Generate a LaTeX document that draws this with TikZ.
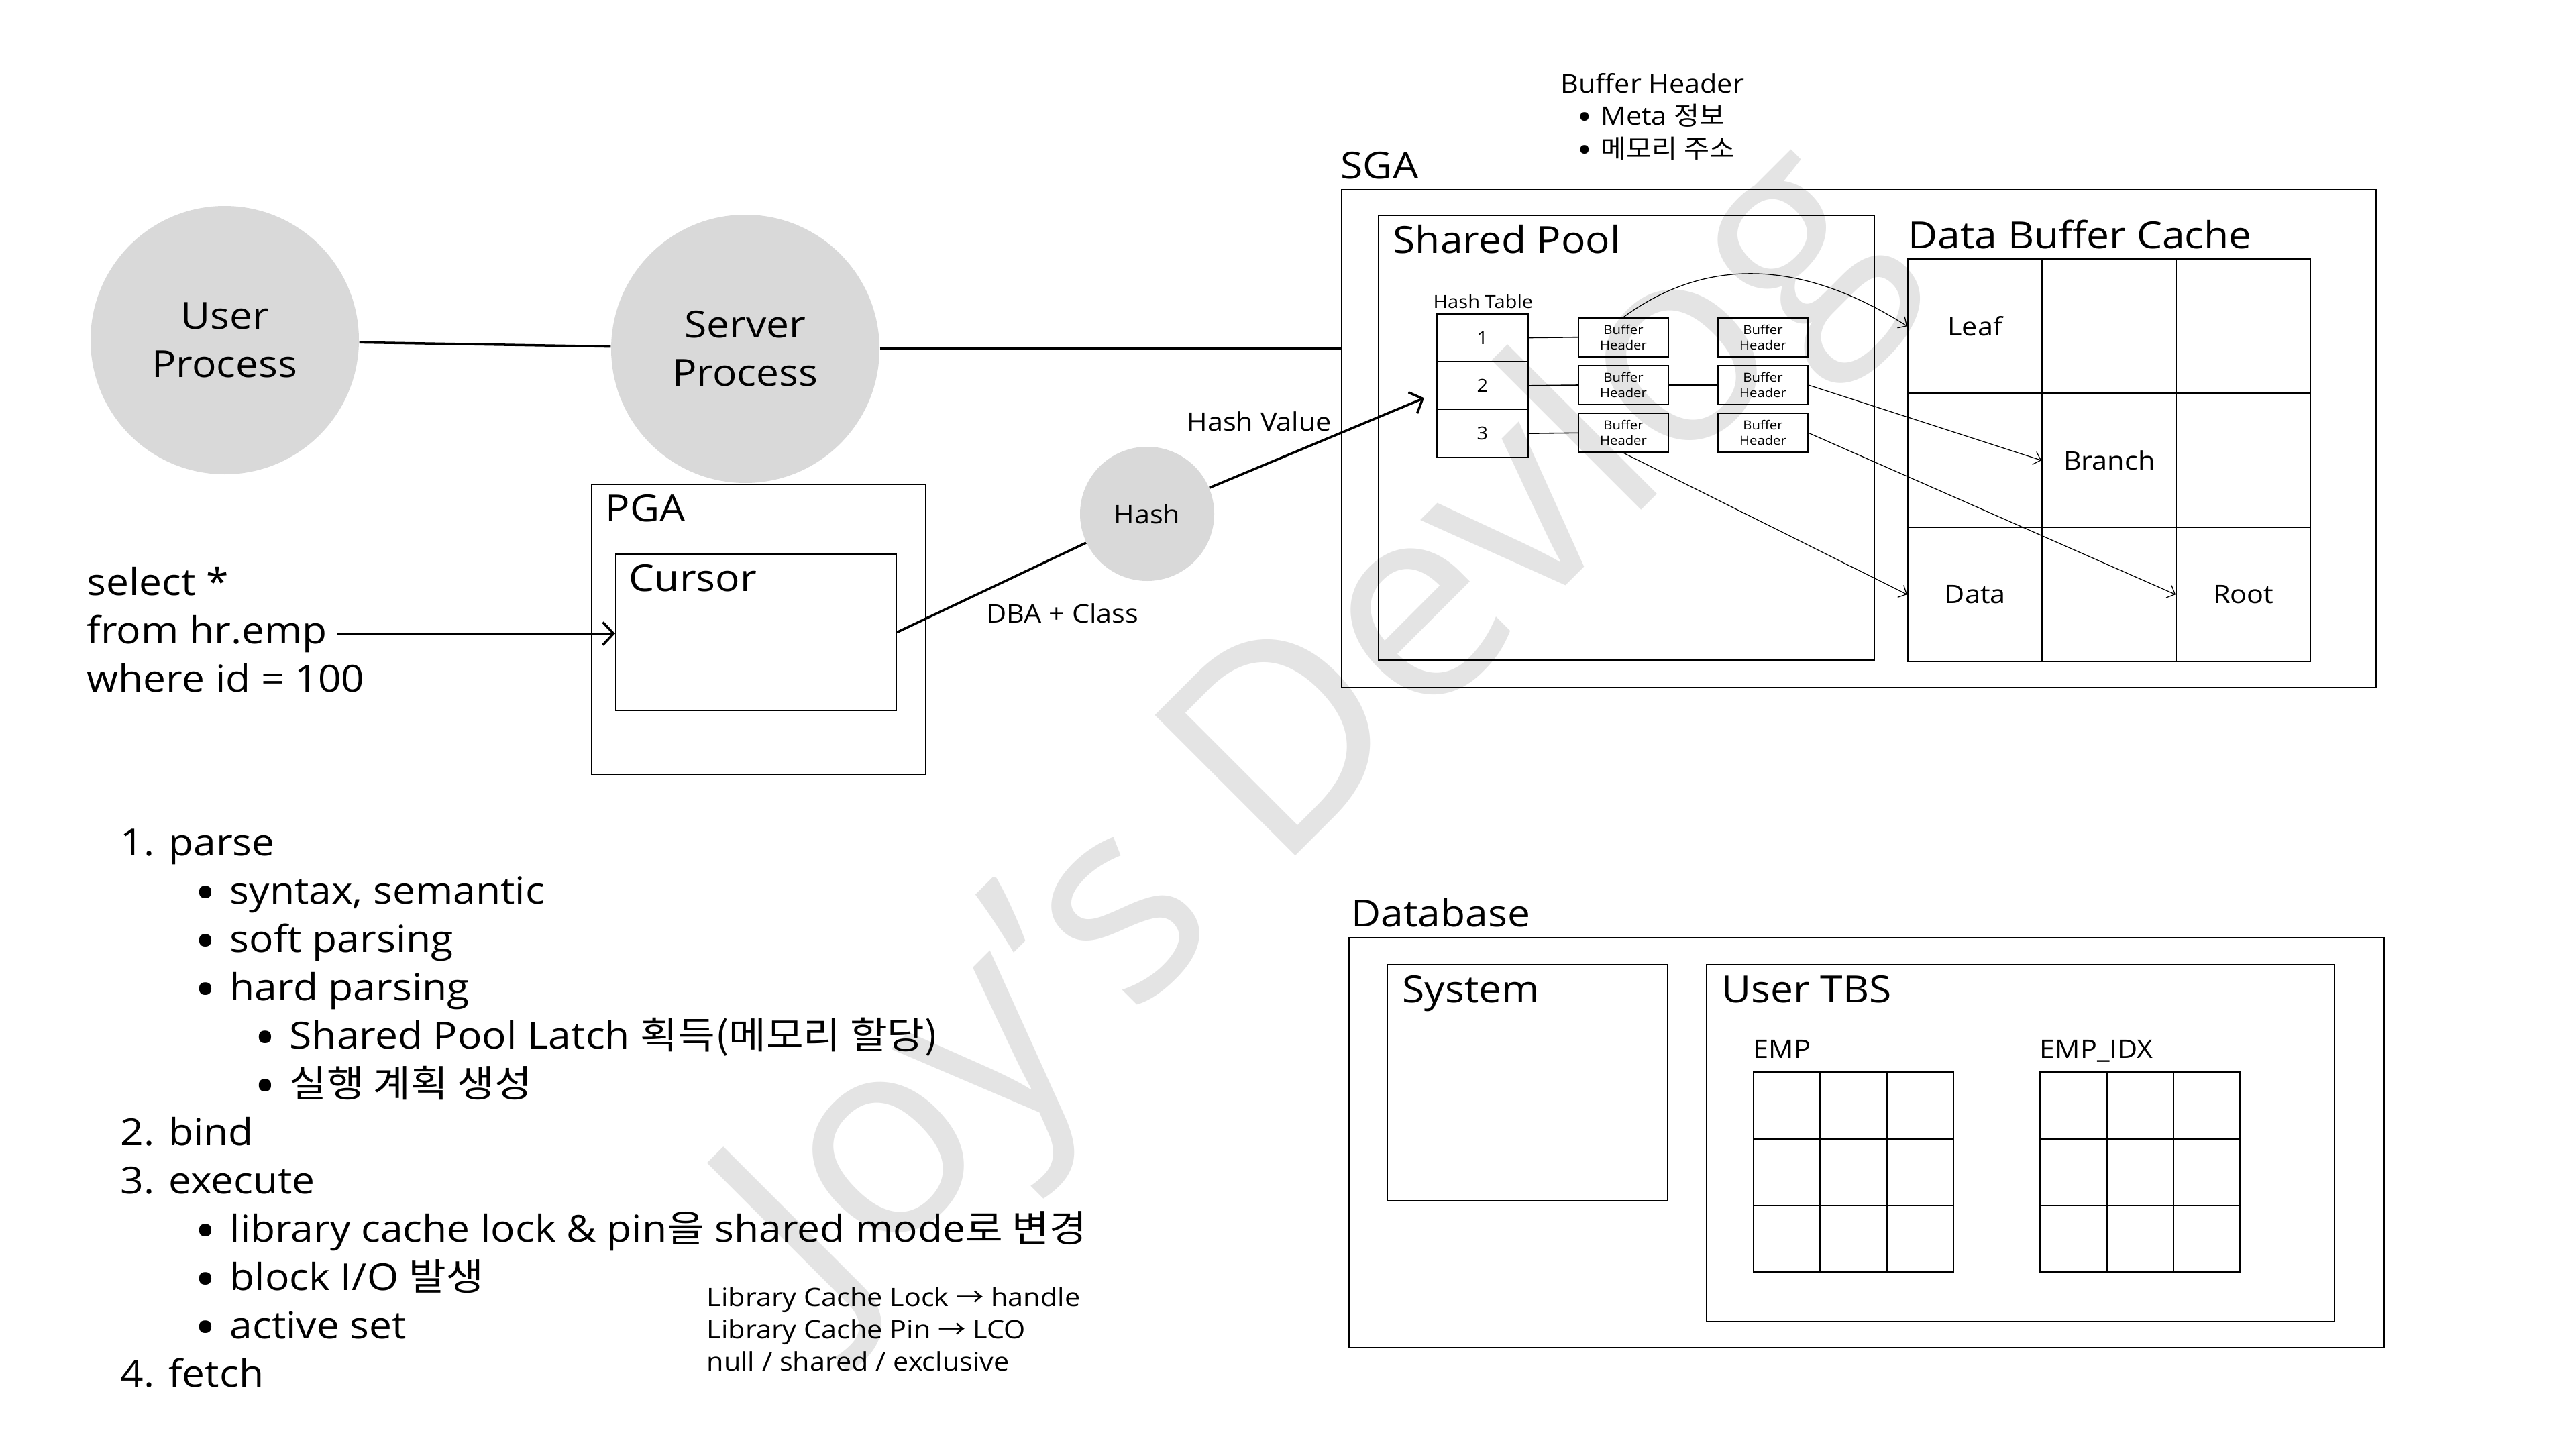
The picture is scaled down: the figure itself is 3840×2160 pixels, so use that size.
\documentclass[tikz,border=0pt]{standalone}
\usepackage{fontspec}
\setmainfont{Open Sans}[FakeStretch=1.09]
\newfontfamily\kr{Noto Sans CJK KR}[FakeStretch=1.09]
\newfontfamily\markfont{Open Sans}
\usepackage{tikz}
\usetikzlibrary{arrows.meta,calc}
\definecolor{procgray}{HTML}{D9D9D9}
\definecolor{markgray}{HTML}{E4E4E4}
\newcommand{\txtbig}{\fontsize{15.8pt}{20.5pt}\selectfont}
\newcommand{\txtmid}{\fontsize{10.8pt}{13.8pt}\selectfont}
\newcommand{\txtsmall}{\fontsize{7.6pt}{9pt}\selectfont}
\newcommand{\txttiny}{\fontsize{5.3pt}{6.6pt}\selectfont}
\newcommand{\dotmark}{\hspace{-0.06em}\raisebox{-0.2em}{\scalebox{1.4}{•}}}
\newcommand{\bul}{\makebox[4.9mm][l]{\dotmark}}
\tikzset{
  mem box/.style={draw,line width=0.6pt,inner sep=0pt,anchor=north west},
  mem cell/.style={draw,line width=0.7pt,inner sep=0pt,anchor=north west,font=\txtmid},
  mem proc/.style={circle,fill=procgray,inner sep=0pt,minimum size=4cm,align=center,font=\txtbig},
  mem hash/.style={circle,fill=procgray,inner sep=0pt,minimum size=2cm,font=\txtmid},
  mem slot/.style={draw,line width=0.5pt,inner sep=0pt,anchor=north west,minimum width=1.36cm,minimum height=0.713cm,font=\txtsmall},
  mem header/.style={draw,line width=0.5pt,inner sep=0pt,minimum width=1.34cm,minimum height=0.58cm,align=center,font=\txttiny},
  mem title/.style={inner sep=0pt,anchor=base west,font=\txtbig},
  mem label/.style={inner sep=0pt,anchor=base west,font=\txtmid},
  mem link/.style={line width=1pt},
  mem chain/.style={line width=0.45pt},
  mem arrow/.style={line width=1pt,-{Straight Barb[length=1.6mm,width=3.4mm]}},
  mem ptr/.style={line width=0.35pt,-{Straight Barb[length=1mm,width=2mm]}},
  mem mark/.style={text=markgray,font=\markfont\fontsize{118pt}{118pt}\selectfont,inner sep=0pt}
}

\begin{document}
\begin{tikzpicture}[x=0.1mm,y=-0.1mm]
  \useasboundingbox (0,0) rectangle (3840,2160);
  \fill[white] (0,0) rectangle (3840,2160);

  % watermark
  \node[mem mark,rotate=45,anchor=base] (wm) at (2035,1172) {Joy’s Devlog};

  % processes
  \node[mem proc] (user) at (335,507) {User\\Process};
  \node[mem proc] (server) at (1111,520) {Server\\Process};
  \draw[mem link] (user) -- (server);

  % PGA
  \node[mem box,minimum width=4.98cm,minimum height=4.33cm] (pga) at (881,721) {};
  \node[mem title] (pgat) at (902,777) {PGA};
  \node[mem box,minimum width=4.18cm,minimum height=2.33cm] (cursor) at (917,825) {};
  \node[mem title] (cursort) at (937,881) {Cursor};

  % sql text
  \node[mem title] (sql1) at (129,887) {select *};
  \node[mem title] (sql2) at (129,959) {from hr.emp};
  \node[mem title] (sql3) at (129,1031) {where id = 100};
  \draw[mem arrow] ([xshift=1.5mm]sql2.east) -- (sql2.east -| cursor.west);

  % hash function
  \node[mem hash] (hash) at (1710,766) {Hash};
  \draw[mem link] (cursor.east) -- (hash);
  \node[mem label] (dba) at (1470,928) {DBA + Class};
  \node[mem label] (hv) at (1769,642) {Hash Value};

  % SGA
  \node[mem box,minimum width=15.42cm,minimum height=7.43cm] (sga) at (1999,281) {};
  \node[mem title] (sgat) at (1998,266) {SGA};
  \draw[mem link] (server.east) -- (server.east -| sga.west);
  \node[mem box,minimum width=7.39cm,minimum height=6.63cm] (pool) at (2054,320) {};
  \node[mem title] (poolt) at (2076,377) {Shared Pool};
  \node[mem title] (dbct) at (2844,370) {Data Buffer Cache};

  % hash table and buffer header chains
  \node[inner sep=0pt,anchor=base west,font=\txtsmall] (htt) at (2136,459) {Hash Table};
  \foreach \r in {1,2,3} {
    \node[mem slot] (ht\r) at (2141,{467+(\r-1)*71.3}) {\r};
    \node[mem header] (bh\r1) at (2420,{502.7+(\r-1)*71.3}) {Buffer\\Header};
    \node[mem header] (bh\r2) at (2628,{502.7+(\r-1)*71.3}) {Buffer\\Header};
    \draw[mem chain] (ht\r.east) -- (bh\r1.west);
    \draw[mem chain] (bh\r1.east) -- (bh\r2.west);
  }
  \draw[mem arrow] (hash) -- ($(ht2.south west)+(-18,-18)$);

  % data buffer cache
  \foreach \r/\c/\txt in {1/1/Leaf,1/2/{},1/3/{},2/1/{},2/2/Branch,2/3/{},3/1/Data,3/2/{},3/3/Root}
    \node[mem cell,minimum size=2cm] (dbc\r\c) at ({2843+(\c-1)*200},{385+(\r-1)*200}) {\txt};

  \draw[mem ptr] (bh11.north) .. controls +(130,-95) and +(-150,-95) .. (dbc11.west);
  \draw[mem ptr] (bh22.east) -- (dbc22.west);
  \draw[mem ptr] (bh32.east) -- (dbc33.west);
  \draw[mem ptr] (bh31.south) -- (dbc31.west);

  % buffer header note
  \node[mem label] (bhn) at (2326,138) {Buffer Header};
  \node[mem label] (bhn1) at (2353,186) {\makebox[3.3mm][l]{\dotmark}Meta {\kr 정보}};
  \node[mem label] (bhn2) at (2353,235) {\makebox[3.3mm][l]{\dotmark}{\kr 메모리 주소}};

  % database
  \node[mem box,minimum width=15.43cm,minimum height=6.11cm] (db) at (2010,1397) {};
  \node[mem title] (dbt) at (2014,1381) {Database};
  \node[mem box,minimum width=4.18cm,minimum height=3.52cm] (sys) at (2067,1437) {};
  \node[mem title] (syst) at (2090,1494) {System};
  \node[mem box,minimum width=9.36cm,minimum height=5.32cm] (tbs) at (2543,1437) {};
  \node[mem title] (tbst) at (2566,1494) {User TBS};
  \node[mem label] (empt) at (2613,1577) {EMP};
  \node[mem label] (idxt) at (3040,1577) {EMP\_IDX};
  \foreach \r in {1,2,3}
    \foreach \c in {1,2,3} {
      \node[mem cell,minimum size=0.993cm] (emp\r\c) at ({2613+(\c-1)*99.3},{1597+(\r-1)*99.3}) {};
      \node[mem cell,minimum size=0.993cm] (idx\r\c) at ({3040+(\c-1)*99.3},{1597+(\r-1)*99.3}) {};
    }

  % processing steps
  \node[mem title] (s1) at (179,1275) {1. parse};
  \node[mem title] (s1a) at (293,1347) {\bul syntax, semantic};
  \node[mem title] (s1b) at (293,1419) {\bul soft parsing};
  \node[mem title] (s1c) at (293,1491) {\bul hard parsing};
  \node[mem title] (s1c1) at (382,1563) {\bul Shared Pool Latch {\kr 획득(메모리 할당)}};
  \node[mem title] (s1c2) at (382,1635) {\bul {\kr 실행 계획 생성}};
  \node[mem title] (s2) at (179,1707) {2. bind};
  \node[mem title] (s3) at (179,1779) {3. execute};
  \node[mem title] (s3a) at (293,1851) {\bul library cache lock \& pin{\kr 을} shared mode{\kr 로 변경}};
  \node[mem title] (s3b) at (293,1923) {\bul block I/O {\kr 발생}};
  \node[mem title] (s3c) at (293,1995) {\bul active set};
  \node[mem title] (s4) at (179,2067) {4. fetch};

  % lock notes
  \node[mem label] (lk1) at (1053,1947) {Library Cache Lock {\kr →} handle};
  \node[mem label] (lk2) at (1053,1995) {Library Cache Pin {\kr →} LCO};
  \node[mem label] (lk3) at (1053,2043) {null / shared / exclusive};
\end{tikzpicture}
\end{document}
